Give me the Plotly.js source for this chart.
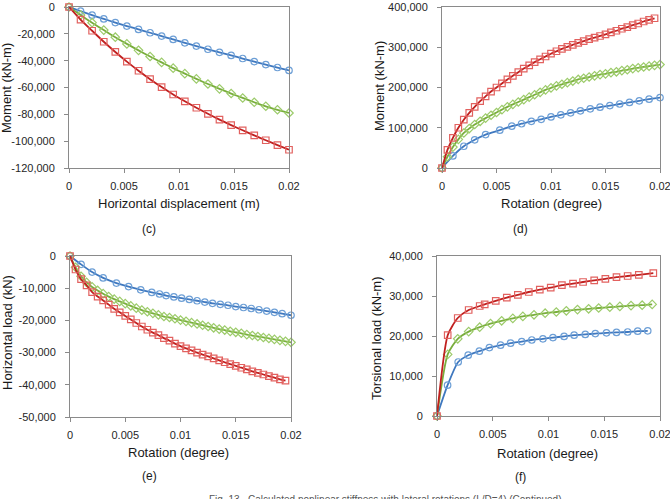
<!DOCTYPE html>
<html>
<head>
<meta charset="utf-8">
<script src="https://cdn.plot.ly/plotly-3.0.1.min.js"></script>
<style>
  html, body { margin: 0; padding: 0; background: #ffffff; }
  #chart { width: 670px; height: 499px; }
</style>
</head>
<body>
<div id="chart"></div>
<script>
// ---------- (c) Moment vs horizontal displacement ----------
const dispC = [0, 0.00105, 0.0021, 0.00316, 0.00421, 0.00526, 0.00632, 0.00737, 0.00842, 0.00947,
               0.01053, 0.01158, 0.01263, 0.01368, 0.01474, 0.01579, 0.01684, 0.01789, 0.01895, 0.02];
const momentC_blue  = [0, -3100, -6100, -8900, -11600, -14200, -16700, -19200, -21700, -24200,
                       -26700, -29100, -31500, -33800, -36100, -38400, -40700, -42900, -45100, -47300];
const momentC_green = [0, -6000, -11700, -17200, -22500, -27500, -32300, -36900, -41300, -45600,
                       -49700, -53600, -57400, -61000, -64500, -67800, -71000, -74000, -76600, -79000];
const momentC_red   = [0, -9400, -17700, -25900, -33500, -40700, -47500, -53800, -59700, -65200,
                       -70300, -75100, -79600, -83900, -88000, -91900, -95700, -99300, -102900, -106400];

// ---------- (d) Moment vs rotation ----------
const rotD_blue = [0, 0.001, 0.002, 0.003, 0.004, 0.0053, 0.0064, 0.0073, 0.0082, 0.0091, 0.0100,
                   0.0109, 0.0118, 0.0127, 0.0136, 0.0145, 0.0154, 0.0163, 0.0172, 0.0181, 0.0190, 0.0200];
const momentD_blue = [0, 30000, 54000, 70000, 83000, 94000, 104000, 110000, 116000, 121000, 127000,
                      132000, 137000, 142000, 147000, 151000, 155000, 159000, 163000, 167000, 171000, 175000];
const rotD_green = [0, 0.0005, 0.001, 0.0015, 0.002, 0.0025, 0.003, 0.0035, 0.004, 0.0045, 0.005,
                    0.0055, 0.006, 0.0065, 0.007, 0.0075, 0.008, 0.0085, 0.009, 0.0095, 0.01,
                    0.0105, 0.011, 0.0115, 0.012, 0.0125, 0.013, 0.0135, 0.014, 0.0145, 0.015,
                    0.0155, 0.016, 0.0165, 0.017, 0.0175, 0.018, 0.0185, 0.019, 0.0195, 0.02];
const momentD_green = [0, 28000, 52000, 71000, 87000, 98000, 108000, 116000, 124000, 131000, 138000,
                       145000, 152000, 158000, 164000, 170000, 176000, 182000, 188000, 194000, 199000,
                       204000, 208000, 212000, 216000, 220000, 223000, 226000, 229000, 232000, 234000,
                       237000, 239000, 242000, 244000, 247000, 249000, 251000, 253000, 255000, 257000];
const rotD_red = [0, 0.0005, 0.001, 0.0015, 0.002, 0.0025, 0.003, 0.0035, 0.004, 0.0045, 0.005,
                  0.0055, 0.006, 0.0065, 0.007, 0.0075, 0.008, 0.0085, 0.009, 0.0095, 0.01,
                  0.0105, 0.011, 0.0115, 0.012, 0.0125, 0.013, 0.0135, 0.014, 0.0145, 0.015,
                  0.0155, 0.016, 0.0165, 0.017, 0.0175, 0.018, 0.0185, 0.019, 0.0195];
const momentD_red = [0, 45000, 75000, 100000, 120000, 137000, 152000, 166000, 178000, 190000, 200000,
                     210000, 220000, 229000, 238000, 247000, 255000, 263000, 270000, 277000, 284000,
                     290000, 296000, 301000, 306000, 311000, 315000, 320000, 324000, 328000, 332000,
                     337000, 341000, 346000, 350000, 355000, 359000, 364000, 368000, 372000];

// ---------- (e) Horizontal load vs rotation ----------
const rotE_blue = [0, 0.001, 0.002, 0.003, 0.0042, 0.0053, 0.0064, 0.0074, 0.0081, 0.0087, 0.0094,
                   0.0101, 0.0108, 0.0115, 0.0122, 0.0129, 0.0136, 0.0143, 0.015, 0.0157, 0.0164,
                   0.0171, 0.0178, 0.0185, 0.0192, 0.02];
const loadE_blue = [0, -2600, -5000, -6800, -8400, -9500, -10500, -11300, -11800, -12300, -12700,
                    -13100, -13500, -13900, -14300, -14700, -15000, -15300, -15700, -16000, -16300,
                    -16700, -17100, -17500, -17900, -18400];
const rotE_green = rotD_green.slice();
const loadE_green = [0, -3500, -6300, -8200, -9600, -10700, -11700, -12600, -13400, -14100, -14800,
                     -15500, -16200, -16800, -17300, -17800, -18300, -18800, -19100, -19500, -19900,
                     -20300, -20700, -21100, -21500, -21900, -22300, -22700, -23000, -23400, -23700,
                     -24000, -24400, -24700, -25000, -25300, -25600, -25900, -26200, -26500, -26800];
const rotE_red = rotD_red.slice();
const loadE_red = [0, -4200, -7200, -9100, -11200, -12600, -13800, -15100, -16400, -17500, -18600,
                   -19700, -20800, -21900, -22900, -23800, -24600, -25500, -26300, -27200, -28000,
                   -28700, -29300, -30000, -30600, -31200, -31800, -32400, -33000, -33600, -34100,
                   -34700, -35200, -35800, -36300, -36800, -37300, -37800, -38300, -38700];

// ---------- (f) Torsional load vs rotation ----------
const rotF_blue = [0, 0.00095, 0.0019, 0.0028, 0.0038, 0.0047, 0.0057, 0.0066, 0.0076, 0.0085, 0.0095,
                   0.0104, 0.0114, 0.0123, 0.0133, 0.0142, 0.0152, 0.0161, 0.0171, 0.018, 0.0189];
const torsF_blue = [0, 7700, 13500, 15200, 16200, 17100, 17700, 18200, 18600, 19000, 19300,
                    19600, 19900, 20200, 20400, 20600, 20800, 20900, 21000, 21200, 21300];
const rotF_green = [0, 0.00096, 0.00186, 0.00284, 0.00383, 0.0048, 0.0058, 0.0068, 0.0077, 0.0087, 0.0097,
                    0.0107, 0.0116, 0.0126, 0.0136, 0.0145, 0.0155, 0.0164, 0.0174, 0.0184, 0.0193];
const torsF_green = [0, 15400, 19300, 21100, 22200, 23100, 23800, 24400, 24900, 25300, 25700,
                     26000, 26300, 26600, 26800, 27000, 27200, 27400, 27600, 27700, 27900];
const rotF_red = [0, 0.00096, 0.00186, 0.00284, 0.00383, 0.00428, 0.00527, 0.00626, 0.00725, 0.00823, 0.00922,
                  0.0102, 0.0112, 0.0122, 0.0131, 0.0141, 0.0151, 0.0161, 0.0171, 0.0181, 0.0194];
const torsF_red = [0, 20200, 24500, 26500, 27500, 27900, 28800, 29600, 30300, 31000, 31600,
                   32100, 32700, 33100, 33500, 33900, 34300, 34700, 35000, 35300, 35700];

// ---------- tick labels ----------
const xTickVals = [0, 0.005, 0.01, 0.015, 0.02];
const xTickText = ['0', '0.005', '0.01', '0.015', '0.02'];
const yTickValsC = [0, -20000, -40000, -60000, -80000, -100000, -120000];
const yTickTextC = ['0', '-20,000', '-40,000', '-60,000', '-80,000', '-100,000', '-120,000'];
const yTickValsD = [0, 100000, 200000, 300000, 400000];
const yTickTextD = ['0', '100,000', '200,000', '300,000', '400,000'];
const yTickValsE = [0, -10000, -20000, -30000, -40000, -50000];
const yTickTextE = ['0', '-10,000', '-20,000', '-30,000', '-40,000', '-50,000'];
const yTickValsF = [0, 10000, 20000, 30000, 40000];
const yTickTextF = ['0', '10,000', '20,000', '30,000', '40,000'];

// ---------- styling ----------
const W = 670, H = 499;
const FONT = '"Liberation Sans", Arial, sans-serif';
const STYLE = {
  blue:  { line: '#3f78bf', marker: '#6d9fd6', symbol: 'circle-open' },
  green: { line: '#79ad3c', marker: '#9ccb6a', symbol: 'diamond-open' },
  red:   { line: '#c0201f', marker: '#e2615f', symbol: 'square-open' }
};

function series(x, y, key, ax) {
  const s = STYLE[key];
  return {
    x: x, y: y, type: 'scatter', mode: 'lines+markers',
    xaxis: 'x' + ax, yaxis: 'y' + ax, cliponaxis: false, showlegend: false,
    line: { color: s.line, width: 1.8, shape: 'spline', smoothing: 0.6 },
    marker: { symbol: s.symbol, size: 6.5, color: s.marker, line: { color: s.marker, width: 1.2 } },
    hoverinfo: 'skip'
  };
}

const px = v => v / W;
const py = v => 1 - v / H;

function xAxis(left, right, anchor) {
  return {
    domain: [px(left), px(right)], anchor: anchor, range: [0, 0.02],
    tickvals: xTickVals, ticktext: xTickText, ticklabeloverflow: 'allow',
    showline: true, mirror: true, linecolor: '#8a8a8a', linewidth: 1,
    ticks: 'outside', ticklen: 4, tickcolor: '#8a8a8a', ticklabelstandoff: 4,
    showgrid: false, zeroline: false, fixedrange: true,
    tickfont: { family: FONT, size: 11, color: '#262626' }
  };
}
function yAxis(top, bottom, anchor, range, vals, text) {
  return {
    domain: [py(bottom), py(top)], anchor: anchor, range: range,
    tickvals: vals, ticktext: text, ticklabeloverflow: 'allow',
    showline: true, mirror: true, linecolor: '#8a8a8a', linewidth: 1,
    ticks: 'outside', ticklen: 4, tickcolor: '#8a8a8a', ticklabelstandoff: 7,
    showgrid: false, zeroline: false, fixedrange: true,
    tickfont: { family: FONT, size: 11, color: '#262626' }
  };
}

function label(text, x, y, size, angle) {
  return {
    text: text, xref: 'paper', yref: 'paper', x: px(x), y: py(y),
    xanchor: 'center', yanchor: 'middle', showarrow: false, textangle: angle || 0,
    font: { family: FONT, size: size, color: '#1a1a1a' }
  };
}

const data = [
  series(dispC, momentC_blue, 'blue', ''),
  series(dispC, momentC_green, 'green', ''),
  series(dispC, momentC_red, 'red', ''),
  series(rotD_blue, momentD_blue, 'blue', '2'),
  series(rotD_green, momentD_green, 'green', '2'),
  series(rotD_red, momentD_red, 'red', '2'),
  series(rotE_blue, loadE_blue, 'blue', '3'),
  series(rotE_green, loadE_green, 'green', '3'),
  series(rotE_red, loadE_red, 'red', '3'),
  series(rotF_blue, torsF_blue, 'blue', '4'),
  series(rotF_green, torsF_green, 'green', '4'),
  series(rotF_red, torsF_red, 'red', '4')
];

const layout = {
  width: W, height: H,
  margin: { l: 0, r: 0, t: 0, b: 0, pad: 0 },
  paper_bgcolor: '#ffffff', plot_bgcolor: '#ffffff',
  showlegend: false,
  xaxis:  xAxis(69, 289, 'y'),
  yaxis:  yAxis(7, 168, 'x', [-120000, 0], yTickValsC, yTickTextC),
  xaxis2: xAxis(442, 660, 'y2'),
  yaxis2: yAxis(7, 168, 'x2', [0, 400000], yTickValsD, yTickTextD),
  xaxis3: xAxis(70, 291, 'y3'),
  yaxis3: yAxis(256, 417, 'x3', [-50000, 0], yTickValsE, yTickTextE),
  xaxis4: xAxis(437, 660, 'y4'),
  yaxis4: yAxis(256, 416, 'x4', [0, 40000], yTickValsF, yTickTextF),
  annotations: [
    label('Horizontal displacement (m)', 179, 204, 13),
    label('Moment (kN-m)', 7, 88, 13, -90),
    label('(c)', 149, 229, 12),
    label('Rotation (degree)', 551, 204, 13),
    label('Moment (kN-m)', 380, 86, 13, -90),
    label('(d)', 520, 229, 12),
    label('Rotation (degree)', 178, 452, 13),
    label('Horizontal load (kN)', 7, 333, 13, -90),
    label('(e)', 149, 476, 12),
    label('Rotation (degree)', 547, 453, 13),
    label('Torsional load (kN-m)', 376, 338, 13, -90),
    label('(f)', 520, 477, 12),
    {
      text: 'Fig. 13.  Calculated nonlinear stiffness with lateral rotations (L/D=4) (Continued)',
      xref: 'paper', yref: 'paper', x: px(385), y: py(492),
      xanchor: 'center', yanchor: 'top', showarrow: false,
      font: { family: FONT, size: 10, color: '#555555' }
    }
  ]
};

Plotly.newPlot('chart', data, layout, { staticPlot: true, displayModeBar: false });
</script>
</body>
</html>
